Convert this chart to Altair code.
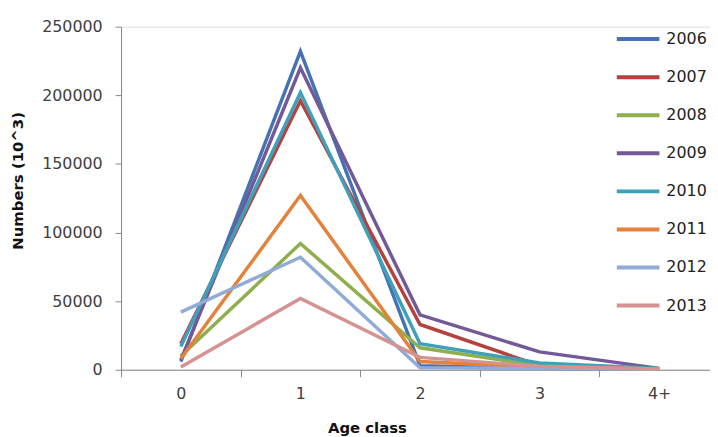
import altair as alt
import pandas as pd

age_classes = ["0", "1", "2", "3", "4+"]
years = ["2006", "2007", "2008", "2009", "2010", "2011", "2012", "2013"]
colors = ["#4472B2", "#B5423F", "#8FAE4C", "#735A96", "#3FA1B9", "#E3823A", "#90ABD5", "#D59291"]

n2006 = [6000, 232000, 3000, 1000, 500]
n2007 = [19000, 196000, 33000, 3000, 500]
n2008 = [10000, 92000, 16000, 3000, 500]
n2009 = [7000, 220000, 40000, 13000, 1000]
n2010 = [17000, 202000, 19000, 5000, 1000]
n2011 = [8000, 127000, 6000, 2000, 500]
n2012 = [42000, 82000, 1500, 1000, 300]
n2013 = [2000, 52000, 9000, 2500, 500]

series = [n2006, n2007, n2008, n2009, n2010, n2011, n2012, n2013]
rows = []
for yr, vals in zip(years, series):
    for i, v in enumerate(vals):
        rows.append({"year": yr, "age": i, "n": v})
df = pd.DataFrame(rows)

label_arr = "[" + ",".join("'" + a + "'" for a in age_classes) + "]"
font = "DejaVu Sans"
txt = "#404040"
axis_col = "#888888"

chart = alt.Chart(df).mark_line(strokeWidth=3.5).encode(
    x=alt.X("age:Q",
            scale=alt.Scale(domain=[-0.5, 4.425], nice=False, zero=False),
            axis=alt.Axis(values=[-0.5, 0, 0.5, 1, 1.5, 2, 2.5, 3, 3.5, 4],
                          labelExpr="datum.value % 1 == 0 ? " + label_arr + "[datum.value] : ''",
                          tickOpacity={"condition": {"test": "datum.value % 1 == 0", "value": 0}, "value": 1},
                          grid=False, tickSize=7, labelPadding=9, labelFontSize=16, labelFont=font,
                          labelColor=txt, domainColor=axis_col, tickColor=axis_col,
                          title="Age class", titleFont=font, titleFontSize=15, titleFontWeight="bold",
                          titleColor="#111111", titleX=248, titleY=58, titleAlign="center",
                          titleBaseline="middle", labelFlush=False, labelOverlap=False)),
    y=alt.Y("n:Q",
            scale=alt.Scale(domain=[0, 250000], nice=False),
            axis=alt.Axis(values=[0, 50000, 100000, 150000, 200000, 250000], format="d",
                          grid=False, tickSize=6, labelPadding=13, labelFontSize=16, labelFont=font,
                          labelColor=txt, domainColor=axis_col, tickColor=axis_col,
                          title="Numbers (10^3)", titleFont=font, titleFontSize=15, titleFontWeight="bold",
                          titleColor="#111111", titleX=-104, titleY=155, titleAlign="center",
                          titleBaseline="middle", labelFlush=False)),
    color=alt.Color("year:N",
                    scale=alt.Scale(domain=years, range=colors),
                    legend=alt.Legend(title=None, orient="none", legendX=498, legendY=-11,
                                      symbolType="stroke", symbolSize=1849, symbolStrokeWidth=4,
                                      labelFont=font, labelFontSize=16, labelColor="#222222",
                                      labelOffset=5, rowPadding=6.4, padding=0)),
).properties(
    width=594, height=346,
    padding={"left": 114, "top": 17, "right": 0, "bottom": 70},
    autosize=alt.AutoSizeParams(type="none"),
).configure_view(stroke=None).configure(background="white")

chart.save("out.html", embed_options={"renderer": "svg", "actions": False})
